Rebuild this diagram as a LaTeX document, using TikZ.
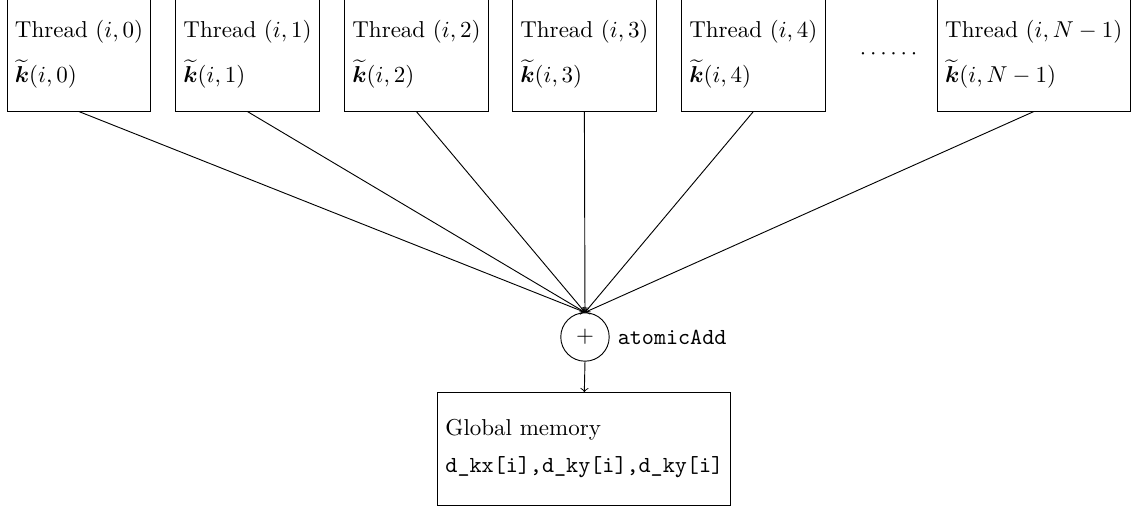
\documentclass[tikz,border=0pt]{standalone}
\usepackage{amsmath,amssymb,bm}
\usepackage{tikz}

\tikzset{
    threadbox/.style={draw,align=left,minimum height=1.73cm},
    membox/.style={draw,align=left,minimum height=1.72cm},
    sumnode/.style={draw,circle,inner sep=0pt,minimum size=0.74cm}
}

\begin{document}
\begin{tikzpicture}
    \useasboundingbox (0,0) rectangle (17.30,-7.73);
    \node[threadbox] (t0) at (1.207,-0.833) {Thread $(i,0)$\\[6pt]$\widetilde{\boldsymbol{k}}(i,0)$};
    \node[threadbox] (t1) at (3.782,-0.833) {Thread $(i,1)$\\[6pt]$\widetilde{\boldsymbol{k}}(i,1)$};
    \node[threadbox] (t2) at (6.364,-0.833) {Thread $(i,2)$\\[6pt]$\widetilde{\boldsymbol{k}}(i,2)$};
    \node[threadbox] (t3) at (8.931,-0.833) {Thread $(i,3)$\\[6pt]$\widetilde{\boldsymbol{k}}(i,3)$};
    \node[threadbox] (t4) at (11.513,-0.833) {Thread $(i,4)$\\[6pt]$\widetilde{\boldsymbol{k}}(i,4)$};
    \node (dots) at (13.61,-0.833) {$\cdots\cdots$};
    \node[threadbox,anchor=west] (tn) at (14.32,-0.833) {Thread $(i,N-1)$\\[6pt]$\widetilde{\boldsymbol{k}}(i,N-1)$};
    \node[sumnode,label=right:{\texttt{atomicAdd}}] (sum) at (8.94,-5.15) {$+$};
    \node[membox] (mem) at (8.93,-6.86) {Global memory\\[4pt]\texttt{d\_kx[i],d\_ky[i],d\_ky[i]}};
    % threads -> atomic add
    \draw[->] (t0.south) -- (sum.north);
    \draw[->] (t1.south) -- (sum.north);
    \draw[->] (t2.south) -- (sum.north);
    \draw[->] (t3.south) -- (sum.north);
    \draw[->] (t4.south) -- (sum.north);
    \draw[->] (tn.south) -- (sum.north);
    \draw[->] (sum.south) -- (mem.north);
\end{tikzpicture}
\end{document}
